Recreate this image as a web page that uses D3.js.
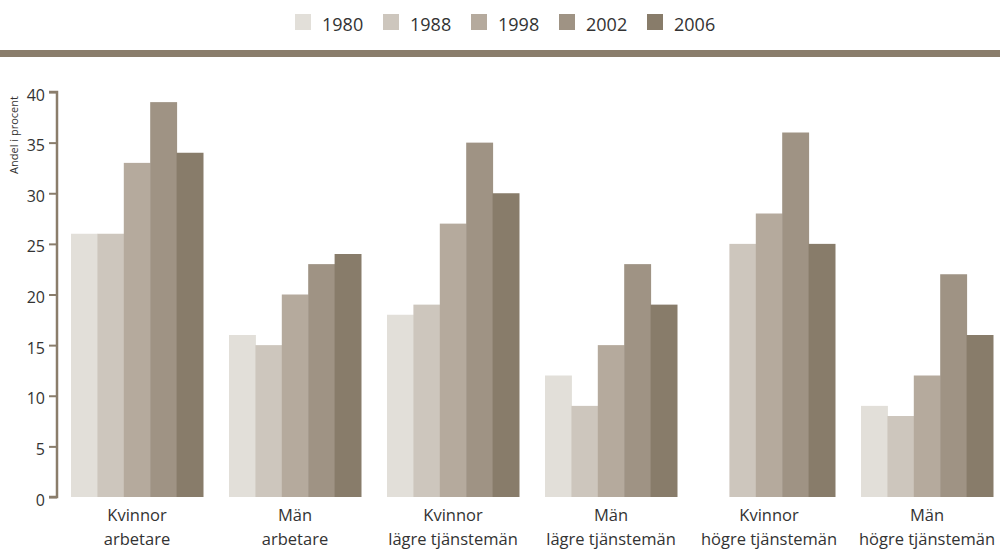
<!DOCTYPE html>
<html>
<head>
<meta charset="utf-8">
<script src="https://cdn.jsdelivr.net/npm/d3@7"></script>
<style>
  html, body { margin: 0; padding: 0; background: #fff; }
  svg { display: block; }
  text { font-family: "Open Sans", "Noto Sans", sans-serif; fill: #333; }
</style>
</head>
<body>
<svg id="chart" width="1000" height="549"></svg>
<script>
// Groups (two-line labels) and survey years
const groups = [
  ["Kvinnor", "arbetare"],
  ["Män", "arbetare"],
  ["Kvinnor", "lägre tjänstemän"],
  ["Män", "lägre tjänstemän"],
  ["Kvinnor", "högre tjänstemän"],
  ["Män", "högre tjänstemän"]
];
const years = ["1980", "1988", "1998", "2002", "2006"];

// Share in percent per year, one value per group (null = no data)
const v1980 = [26, 16, 18, 12, null, 9];
const v1988 = [26, 15, 19, 9, 25, 8];
const v1998 = [33, 20, 27, 15, 28, 12];
const v2002 = [39, 23, 35, 23, 36, 22];
const v2006 = [34, 24, 30, 19, 25, 16];

const yTicks = [0, 5, 10, 15, 20, 25, 30, 35, 40];
const colors = ["#e2dfd9", "#cdc6bd", "#b5aa9d", "#9f9384", "#887c6a"];
const axisColor = "#8a7d6b";

const series = [v1980, v1988, v1998, v2002, v2006];

const svg = d3.select("#chart");

// Legend
const legend = svg.append("g");
years.forEach((yr, i) => {
  const g = legend.append("g").attr("transform", `translate(${295 + i * 88},14)`);
  g.append("rect").attr("width", 16).attr("height", 16).attr("fill", colors[i]);
  g.append("text").attr("x", 27).attr("y", 17).style("font-size", "18px").text(yr);
});

// Header band
svg.append("rect").attr("x", 0).attr("y", 50).attr("width", 1000).attr("height", 7).attr("fill", axisColor);

// Scales
const x0 = d3.scaleBand().domain(d3.range(groups.length)).range([58, 1006])
  .paddingInner(26 / 158).paddingOuter(13 / 158);
const x1 = d3.scaleBand().domain(years).range([0, x0.bandwidth()]);
const y = d3.scaleLinear().domain([0, 40]).range([497, 92]);

// Bars
const barG = svg.append("g");
groups.forEach((grp, gi) => {
  const g = barG.append("g").attr("transform", `translate(${x0(gi)},0)`);
  const rows = years.map((yr, si) => ({ yr, si, v: series[si][gi] })).filter(d => d.v != null);
  g.selectAll("rect").data(rows).join("rect")
    .attr("x", d => x1(d.yr))
    .attr("width", x1.bandwidth() + 0.5)
    .attr("y", d => y(d.v))
    .attr("height", d => y(0) - y(d.v))
    .attr("fill", d => colors[d.si]);
});

// Y axis
const yAxis = d3.axisLeft(y).tickValues(yTicks).tickSize(8).tickPadding(4);
const ax = svg.append("g").attr("transform", "translate(57,0)").call(yAxis);
ax.select(".domain").attr("stroke", axisColor).attr("stroke-width", 2.5)
  .attr("d", `M-8,${y(40)}H0V${y(0)}H-8`);
ax.selectAll(".tick line").attr("stroke", axisColor).attr("stroke-width", 2);
ax.selectAll(".tick text").attr("dy", "0.5em").style("font-size", "16px").style("fill", "#333")
  .style("font-family", "'Open Sans', 'Noto Sans', sans-serif");

// Y title
svg.append("text")
  .attr("transform", `translate(18,135) rotate(-90)`)
  .attr("text-anchor", "middle")
  .style("font-size", "11px")
  .text("Andel i procent");

// Category labels
groups.forEach((grp, gi) => {
  const cx = x0(gi) + x0.bandwidth() / 2;
  grp.forEach((line, li) => {
    svg.append("text")
      .attr("x", cx).attr("y", 521 + li * 24)
      .attr("text-anchor", "middle")
      .style("font-size", "16.5px")
      .text(line);
  });
});
</script>
</body>
</html>
